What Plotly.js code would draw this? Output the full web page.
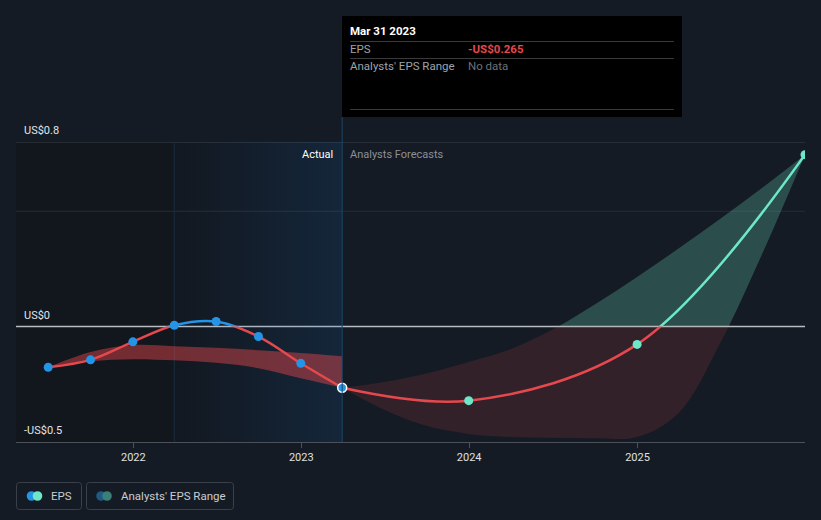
<!DOCTYPE html>
<html><head><meta charset="utf-8">
<script src="https://cdn.plot.ly/plotly-3.0.1.min.js"></script>
<style>html,body{margin:0;padding:0;background:#151b24;}#chart{width:821px;height:520px;}</style>
</head><body><div id="chart"></div>
<script>
// ---------- data ----------
const actualDates = ['2021-06-30','2021-09-30','2021-12-31','2022-03-31','2022-06-30','2022-09-30','2022-12-31','2023-03-31'];
const actualEps   = [-0.176, -0.144, -0.066, 0.006, 0.022, -0.043, -0.159, -0.265];

const forecastDates = ['2023-03-31','2023-12-31','2024-12-31','2025-12-31'];
const forecastEps   = [-0.265, -0.321, -0.077, 0.745];

const histRangeDates = ['2021-06-30','2021-09-30','2021-12-31','2022-03-31','2022-06-30','2022-09-30','2022-12-31','2023-03-31'];
const histRangeLow   = [-0.176, -0.150, -0.141, -0.146, -0.157, -0.180, -0.224, -0.265];
const histRangeHigh  = [-0.176, -0.110, -0.080, -0.085, -0.092, -0.102, -0.114, -0.128];

const fcRangeDates = ['2023-03-31','2023-06-30','2023-09-30','2023-12-31','2024-03-31','2024-06-30','2024-09-30','2024-12-31','2025-03-31','2025-06-30','2025-09-30','2025-12-31'];
const fcRangeLow   = [-0.265, -0.360, -0.430, -0.465, -0.478, -0.482, -0.484, -0.478, -0.375, -0.070, 0.320, 0.745];
const fcRangeHigh  = [-0.265, -0.240, -0.203, -0.153, -0.098, -0.013, 0.096, 0.215, 0.338, 0.467, 0.603, 0.745];

const xTickVals = ['2022-01-01','2023-01-01','2024-01-01','2025-01-01'];
const xTickText = ['2022','2023','2024','2025'];
const yLabelVals = [0.8, 0, -0.5];
const yLabelText = ['US$0.8','US$0','-US$0.5'];
const gridVals = [0.8, 0.5];

const highlightStart = '2022-03-31';
const tooltipDate = 'Mar 31 2023';
const tooltipEps = '-US$0.265';

// ---------- styling ----------
const FONT = 'Roboto, "Open Sans", sans-serif';
const RED = '#e5484d', BLUE = '#2394e6', TEAL = '#6ee7c9';
const xRange = ['2021-04-21','2025-12-31'];
const yRange = [-0.5, 0.8];
const zf = -yRange[0] / (yRange[1] - yRange[0]);
const lastActual = actualDates[actualDates.length - 1];

// pixel -> paper helpers for decorations
const L = 16, R = 805, T = 142, B = 442;
const px = p => (p - L) / (R - L);
const py = p => (B - p) / (B - T);

const sp = {shape:'spline', smoothing:1};

const traces = [
  // highlight gradient (xy)
  {x:[highlightStart,lastActual,lastActual,highlightStart,highlightStart], y:[yRange[0],yRange[0],yRange[1],yRange[1],yRange[0]],
   mode:'lines', line:{width:0}, fill:'toself', fillcolor:'rgba(30,120,200,0.08)',
   fillgradient:{type:'horizontal', colorscale:[[0,'rgba(30,110,190,0.02)'],[1,'rgba(30,120,200,0.17)']]},
   xaxis:'x', yaxis:'y', hoverinfo:'skip'},
  // historical range band (xy)
  {x:histRangeDates, y:histRangeLow, mode:'lines', line:Object.assign({width:0}, sp), xaxis:'x', yaxis:'y', hoverinfo:'skip'},
  {x:histRangeDates, y:histRangeHigh, mode:'lines', line:Object.assign({width:0}, sp), fill:'tonexty', fillcolor:'rgba(229,72,77,0.46)', xaxis:'x', yaxis:'y', hoverinfo:'skip'},
  // forecast band above zero (xy2)
  {x:fcRangeDates, y:fcRangeLow, mode:'lines', line:Object.assign({width:0}, sp), xaxis:'x', yaxis:'y2', hoverinfo:'skip'},
  {x:fcRangeDates, y:fcRangeHigh, mode:'lines', line:Object.assign({width:0}, sp), fill:'tonexty', fillcolor:'rgba(110,231,201,0.25)', xaxis:'x', yaxis:'y2', hoverinfo:'skip'},
  // lines above zero
  {x:actualDates, y:actualEps, mode:'lines', line:Object.assign({width:2.5, color:BLUE}, sp), xaxis:'x', yaxis:'y2', hoverinfo:'skip'},
  {x:forecastDates, y:forecastEps, mode:'lines', line:Object.assign({width:2.5, color:TEAL}, sp), xaxis:'x', yaxis:'y2', hoverinfo:'skip'},
  // forecast band below zero (xy3)
  {x:fcRangeDates, y:fcRangeLow, mode:'lines', line:Object.assign({width:0}, sp), xaxis:'x', yaxis:'y3', hoverinfo:'skip'},
  {x:fcRangeDates, y:fcRangeHigh, mode:'lines', line:Object.assign({width:0}, sp), fill:'tonexty', fillcolor:'rgba(229,72,77,0.15)', xaxis:'x', yaxis:'y3', hoverinfo:'skip'},
  // lines below zero
  {x:actualDates, y:actualEps, mode:'lines', line:Object.assign({width:2.5, color:RED}, sp), xaxis:'x', yaxis:'y3', hoverinfo:'skip'},
  {x:forecastDates, y:forecastEps, mode:'lines', line:Object.assign({width:2.5, color:RED}, sp), xaxis:'x', yaxis:'y3', hoverinfo:'skip'},
  // markers (xy4, drawn last)
  {x:actualDates, y:actualEps, mode:'markers', xaxis:'x', yaxis:'y4', hoverinfo:'skip',
   marker:{size:9, color:BLUE, line:{color:actualDates.map((d,i)=> i===actualDates.length-1 ? '#ffffff' : 'rgba(0,0,0,0)'), width:actualDates.map((d,i)=> i===actualDates.length-1 ? 1.5 : 0)}}},
  {x:forecastDates.slice(1), y:forecastEps.slice(1), mode:'markers', xaxis:'x', yaxis:'y4', hoverinfo:'skip',
   marker:{size:9, color:TEAL, line:{width:0}}}
];

function rrect(x0,y0,x1,y1,r){
  const p=(x,y)=>px(x).toFixed(5)+','+py(y).toFixed(5);
  return 'M'+p(x0+r,y0)+' L'+p(x1-r,y0)+' Q'+p(x1,y0)+' '+p(x1,y0+r)+' L'+p(x1,y1-r)+' Q'+p(x1,y1)+' '+p(x1-r,y1)+
         ' L'+p(x0+r,y1)+' Q'+p(x0,y1)+' '+p(x0,y1-r)+' L'+p(x0,y0+r)+' Q'+p(x0,y0)+' '+p(x0+r,y0)+' Z';
}
function circ(cx,cy,r,color){
  return {type:'circle', xref:'paper', yref:'paper', x0:px(cx-r), x1:px(cx+r), y0:py(cy+r), y1:py(cy-r), fillcolor:color, line:{width:0}, layer:'above'};
}

const shapes = [
  // darker actual zone
  {type:'rect', xref:'x', yref:'paper', x0:xRange[0], x1:lastActual, y0:0, y1:1, fillcolor:'#12161d', line:{width:0}, layer:'below'},
  // gridlines
  {type:'line', xref:'paper', yref:'y', x0:0, x1:1, y0:gridVals[0], y1:gridVals[0], line:{color:'#3d424b', width:1}, layer:'below'},
  {type:'line', xref:'paper', yref:'y', x0:0, x1:1, y0:gridVals[1], y1:gridVals[1], line:{color:'#272c35', width:1}, layer:'below'},
  {type:'line', xref:'paper', yref:'y', x0:0, x1:1, y0:0, y1:0, line:{color:'#b9bcc1', width:1.5}, layer:'below'},
  // highlight left edge
  {type:'line', xref:'x', yref:'paper', x0:highlightStart, x1:highlightStart, y0:0, y1:1, line:{color:'#1a2c3e', width:1}, layer:'below'},
  // tooltip vertical line
  {type:'line', xref:'x', yref:'paper', x0:lastActual, x1:lastActual, y0:0, y1:py(117), line:{color:'#1d4668', width:1}, layer:'above'},
  // tooltip box
  {type:'rect', xref:'paper', yref:'paper', x0:px(342), x1:px(682), y0:py(117), y1:py(16), fillcolor:'#000000', line:{width:0}, layer:'above'},
  {type:'line', xref:'paper', yref:'paper', x0:px(350), x1:px(674), y0:py(41.5), y1:py(41.5), line:{color:'#3a3a3a', width:1}, layer:'above'},
  {type:'line', xref:'paper', yref:'paper', x0:px(350), x1:px(674), y0:py(58.5), y1:py(58.5), line:{color:'#3a3a3a', width:1}, layer:'above'},
  {type:'line', xref:'paper', yref:'paper', x0:px(350), x1:px(674), y0:py(109.5), y1:py(109.5), line:{color:'#3a3a3a', width:1}, layer:'above'},
  // legend boxes
  {type:'path', xref:'paper', yref:'paper', path:rrect(16.5,482.5,81.5,509.5,3), line:{color:'#3b414b', width:1}, fillcolor:'rgba(0,0,0,0)', layer:'above'},
  {type:'path', xref:'paper', yref:'paper', path:rrect(86.5,482.5,233.5,509.5,3), line:{color:'#3b414b', width:1}, fillcolor:'rgba(0,0,0,0)', layer:'above'},
  circ(31.5,496,4.8,BLUE), circ(37.5,496,4.8,TEAL),
  circ(101,496,4.8,'#1f5a85'), circ(107,496,4.8,'#3b8077')
];

const annotations = [];
yLabelVals.forEach((v,i)=>annotations.push({xref:'paper', yref:'y', x:0, y:v, xanchor:'left', yanchor:'bottom', xshift:6, yshift:3,
  text:yLabelText[i], showarrow:false, font:{size:11, color:'#e2e4e8'}}));
annotations.push({xref:'x', yref:'paper', x:lastActual, y:1, xanchor:'right', yanchor:'top', xshift:-7, yshift:-4,
  text:'Actual', showarrow:false, font:{size:11, color:'#ffffff'}});
annotations.push({xref:'x', yref:'paper', x:lastActual, y:1, xanchor:'left', yanchor:'top', xshift:6, yshift:-4,
  text:'Analysts Forecasts', showarrow:false, font:{size:11, color:'#8b9099'}});
// tooltip text
const tt = (x,y,text,color,size)=>annotations.push({xref:'paper', yref:'paper', x:px(x), y:py(y), xanchor:'left', yanchor:'middle', xshift:-2,
  text:text, showarrow:false, font:{size:size, color:color}});
tt(350,31,'<b>'+tooltipDate+'</b>','#ffffff',11.5);
tt(350,49,'EPS','#9ea3aa',11.5);
tt(468,49,'<b>'+tooltipEps+'</b>',RED,11.5);
tt(350,66,"Analysts' EPS Range",'#9ea3aa',11.5);
tt(468,66,'No data','#6c7179',11.5);
// legend text
tt(51,496,'EPS','#c9ccd2',11.5);
tt(121,496,"Analysts' EPS Range",'#c9ccd2',11.5);

const layout = {
  width:821, height:520,
  paper_bgcolor:'#151b24', plot_bgcolor:'rgba(0,0,0,0)',
  margin:{l:L, r:821-R, t:T, b:520-B, pad:0, autoexpand:false},
  showlegend:false, hovermode:false,
  font:{family:FONT, size:11, color:'#e0e2e6'},
  xaxis:{type:'date', range:xRange, showgrid:false, zeroline:false, showline:true, linecolor:'#4b5059', linewidth:1,
         ticks:'outside', ticklen:5, tickcolor:'#4b5059', tickvals:xTickVals, ticktext:xTickText,
         tickfont:{size:11, color:'#dfe1e5'}, fixedrange:true},
  yaxis:{range:yRange, domain:[0,1], visible:false, fixedrange:true},
  yaxis2:{range:[0, yRange[1]], domain:[zf,1], visible:false, anchor:'x', fixedrange:true},
  yaxis3:{range:[yRange[0], 0], domain:[0,zf], visible:false, anchor:'x', fixedrange:true},
  yaxis4:{range:yRange, domain:[0,1], visible:false, anchor:'x', fixedrange:true},
  shapes:shapes, annotations:annotations
};

Plotly.newPlot('chart', traces, layout, {staticPlot:true, displayModeBar:false});
</script></body></html>
